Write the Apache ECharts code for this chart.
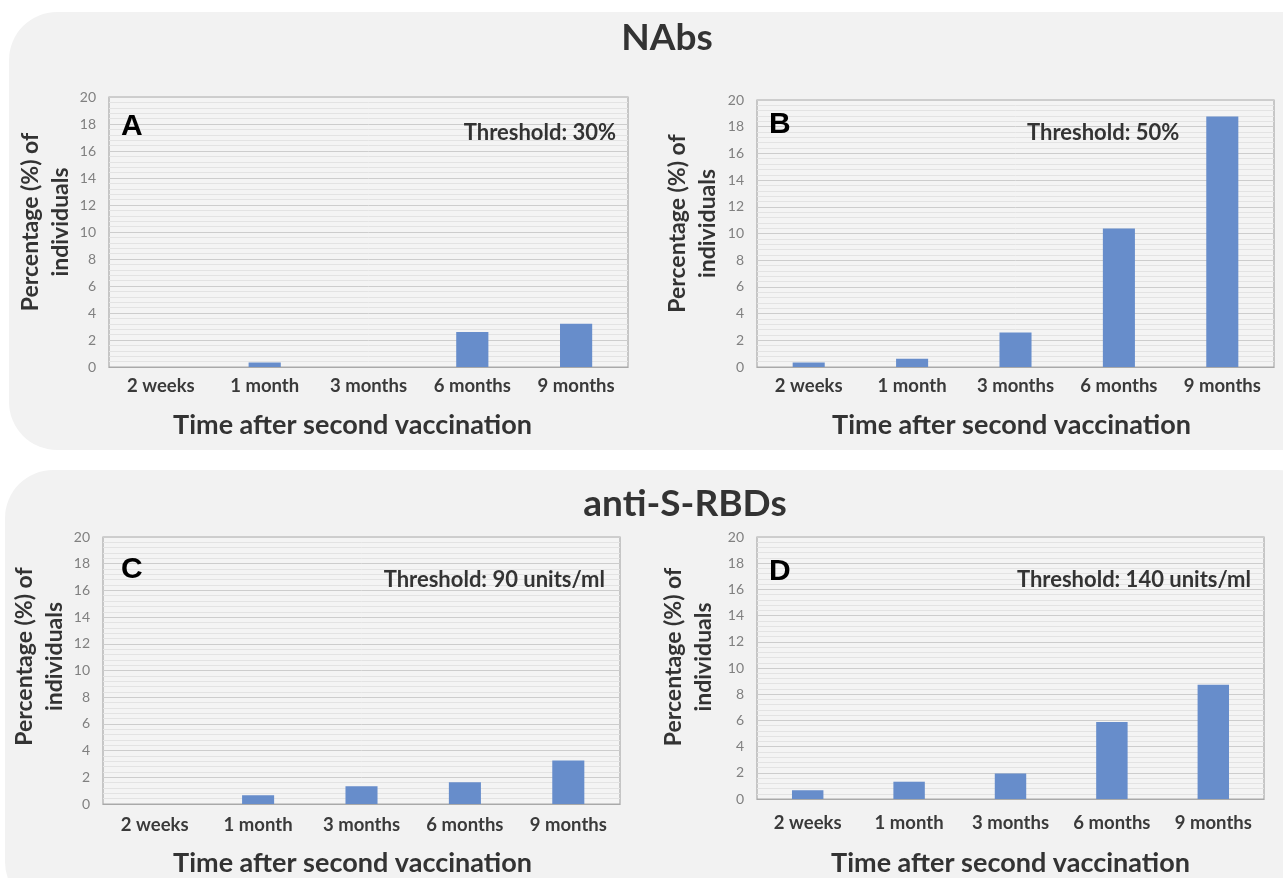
<!DOCTYPE html>
<html>
<head>
<meta charset="utf-8">
<script src="https://cdn.jsdelivr.net/npm/echarts@6/dist/echarts.min.js"></script>
<style>
html,body{margin:0;padding:0;background:#ffffff;}
#chart{width:1283px;height:878px;}
</style>
</head>
<body>
<div id="chart"></div>
<script>
// ---- data ----
const categories = ['2 weeks', '1 month', '3 months', '6 months', '9 months'];
const nabs30 = [0, 0.33, 0, 2.6, 3.2];          // A
const nabs50 = [0.34, 0.62, 2.58, 10.37, 18.77]; // B
const rbd90 = [0, 0.66, 1.33, 1.62, 3.25];       // C
const rbd140 = [0.66, 1.32, 1.95, 5.87, 8.73];   // D
const yTicks = { min: 0, max: 20, interval: 2 };
const panelLetters = ['A', 'B', 'C', 'D'];
const thresholds = ['Threshold: 30%', 'Threshold: 50%', 'Threshold: 90 units/ml', 'Threshold: 140 units/ml'];
const sectionTitles = ['NAbs', 'anti-S-RBDs'];
const xTitle = 'Time after second vaccination';
const yTitle = 'Percentage (%) of\nindividuals';

const seriesData = [nabs30, nabs50, rbd90, rbd140];

// ---- layout ----
const grids = [
  { left: 109, top: 97, width: 519, height: 270, nameGapX: 45, nameGapY: 32, yShift: 20, xShift: 32, labelMargin: 10 },
  { left: 757, top: 100, width: 517, height: 267, nameGapX: 45, nameGapY: 34, yShift: 20, xShift: 8, labelMargin: 10 },
  { left: 103, top: 537, width: 517, height: 271, nameGapX: 46, nameGapY: 29, yShift: 28, xShift: 18, labelMargin: 12 },
  { left: 757, top: 537, width: 507, height: 264, nameGapX: 51, nameGapY: 38, yShift: 22, xShift: 0, labelMargin: 15 }
];
const letterPos = [[121, 112], [769, 110], [121, 555], [769, 557]];
const thresholdPos = [[616, 133, 'right'], [1027, 133, 'left'], [605, 580, 'right'], [1251, 580, 'right']];

const FONT = 'Lato, "Open Sans", sans-serif';
const BAR = '#678dcb';

const option = {
  backgroundColor: '#ffffff',
  animation: false,
  title: [
    { text: sectionTitles[0], left: 662, top: 15, textAlign: 'center',
      textStyle: { fontFamily: FONT, fontWeight: 'bold', fontSize: 37, color: '#333333' } },
    { text: sectionTitles[1], left: 680, top: 481, textAlign: 'center',
      textStyle: { fontFamily: FONT, fontWeight: 'bold', fontSize: 37, color: '#333333' } }
  ],
  graphic: [
    { type: 'rect', z: -10, shape: { x: 9, y: 12, width: 1320, height: 438, r: 48 }, style: { fill: '#f2f2f2' } },
    { type: 'rect', z: -10, shape: { x: 5, y: 470, width: 1320, height: 440, r: 48 }, style: { fill: '#f2f2f2' } }
  ],
  grid: [],
  xAxis: [],
  yAxis: [],
  series: []
};

grids.forEach((g, i) => {
  option.grid.push({
    left: g.left, top: g.top, width: g.width, height: g.height,
    show: true, backgroundColor: '#f4f4f4', borderColor: '#a9a9a9', borderWidth: 1.2
  });
  option.xAxis.push({
    type: 'category', gridIndex: i, data: categories,
    axisLine: { show: true, lineStyle: { color: '#a9a9a9', width: 1.2 } },
    axisTick: { show: false },
    axisLabel: { fontFamily: FONT, fontWeight: 'bold', fontSize: 18.5, color: '#3a3a3a', margin: g.labelMargin },
    name: xTitle, nameLocation: 'middle', nameGap: g.nameGapX,
    nameTextStyle: { fontFamily: FONT, fontWeight: 'bold', fontSize: 27, color: '#333333',
      padding: [0, g.xShift, 0, 0] }
  });
  option.yAxis.push({
    type: 'value', gridIndex: i, min: yTicks.min, max: yTicks.max, interval: yTicks.interval,
    axisLine: { show: false }, axisTick: { show: false },
    axisLabel: { fontFamily: FONT, fontSize: 14, color: '#808080', margin: 13 },
    splitLine: { show: true, lineStyle: { color: '#cdcdcd', width: 1 } },
    minorTick: { show: false, splitNumber: 5 },
    minorSplitLine: { show: true, lineStyle: { color: '#e3e3e3', width: 1 } },
    name: yTitle, nameLocation: 'middle', nameGap: g.nameGapY, nameRotate: 90,
    nameTextStyle: { fontFamily: FONT, fontWeight: 'bold', fontSize: 23, color: '#333333',
      lineHeight: 30, align: 'center', padding: [0, 0, 0, g.yShift] }
  });
  option.series.push({
    type: 'bar', xAxisIndex: i, yAxisIndex: i, data: seriesData[i],
    barWidth: '31%', itemStyle: { color: BAR }, silent: true
  });
  option.graphic.push({
    type: 'text', z: 100, left: letterPos[i][0], top: letterPos[i][1],
    style: { text: panelLetters[i], font: 'bold 30px "Liberation Sans", Arial, sans-serif', fill: '#000000' }
  });
  option.graphic.push({
    type: 'text', z: 100, x: thresholdPos[i][0], y: thresholdPos[i][1],
    style: { text: thresholds[i], font: 'bold 22px Lato, "Open Sans", sans-serif', fill: '#333333',
      textAlign: thresholdPos[i][2], textVerticalAlign: 'middle' }
  });
});

const chart = echarts.init(document.getElementById('chart'), null, { renderer: 'canvas' });
chart.setOption(option);
</script>
</body>
</html>
